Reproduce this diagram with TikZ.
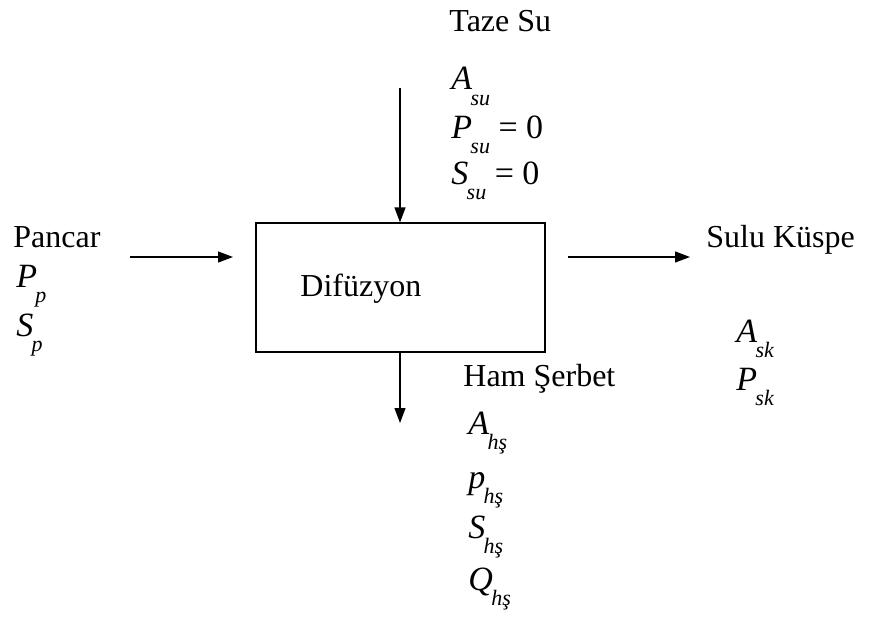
\documentclass[tikz,border=0pt]{standalone}
\usepackage{fontspec}
\setmainfont{Liberation Serif}
\usetikzlibrary{arrows.meta}

% variable with an italic subscript
\newcommand{\flowvar}[2]{\textit{#1}\kern-0.05em\raisebox{-0.45em}{\fontsize{11}{11}\selectfont\textit{#2}}}

\begin{document}
\begin{tikzpicture}[x=0.5pt,y=-0.5pt,
  every node/.style={font=\fontsize{16}{18}\selectfont, inner sep=0pt},
  txt/.style={anchor=base west},
  var/.style={anchor=base west, font=\fontsize{17}{19}\selectfont},
  flow/.style={-{Triangle[length=7.5pt,width=5.5pt]}, line width=0.6pt}]
 \useasboundingbox (0,0) rectangle (886,626);

 %Box
 \node (dif) [draw, line width=0.6pt, minimum width=144.5pt, minimum height=64.5pt] at (400.5,287.5) {};
 \node (difname) [txt] at (300,296) {Difüzyon};

 %Coordinates
 \coordinate (topin) at (400,88);
 \coordinate (leftin) at (130,257);
 \coordinate (lefttip) at (233,257);
 \coordinate (rightout) at (568,257);
 \coordinate (rightend) at (690,257);
 \coordinate (botend) at (400,423);

 %Arrows
 \draw[flow] (topin) -- (topin |- dif.north);
 \draw[flow] (leftin) -- (lefttip);
 \draw[flow] (rightout) -- (rightend);
 \draw[flow] (botend |- dif.south) -- (botend);

 %Fresh water
 \node (taze) [txt] at (449,32) {Taze Su};
 \node (asu) [var] at (451,90) {\flowvar{A}{su}};
 \node (psu) [var] at (451,138) {\flowvar{P}{su}\ = 0};
 \node (ssu) [var] at (451,184) {\flowvar{S}{su}\ = 0};

 %Beet
 \node (pancar) [txt] at (13,247) {Pancar};
 \node (pp) [var] at (16,287) {\flowvar{P}{p}};
 \node (sp) [var] at (16,336) {\flowvar{S}{p}};

 %Pulp
 \node (sulu) [txt] at (706,247) {Sulu Küspe};
 \node (ask) [var] at (736,342) {\flowvar{A}{sk}};
 \node (psk) [var] at (736,390) {\flowvar{P}{sk}};

 %Raw juice
 \node (ham) [txt] at (463,386) {Ham Şerbet};
 \node (ahs) [var] at (468,434) {\flowvar{A}{hş}};
 \node (phs) [var] at (468,488) {\flowvar{p}{hş}};
 \node (shs) [var] at (468,538) {\flowvar{S}{hş}};
 \node (qhs) [var] at (468,590) {\flowvar{Q}{hş}};
\end{tikzpicture}
\end{document}
